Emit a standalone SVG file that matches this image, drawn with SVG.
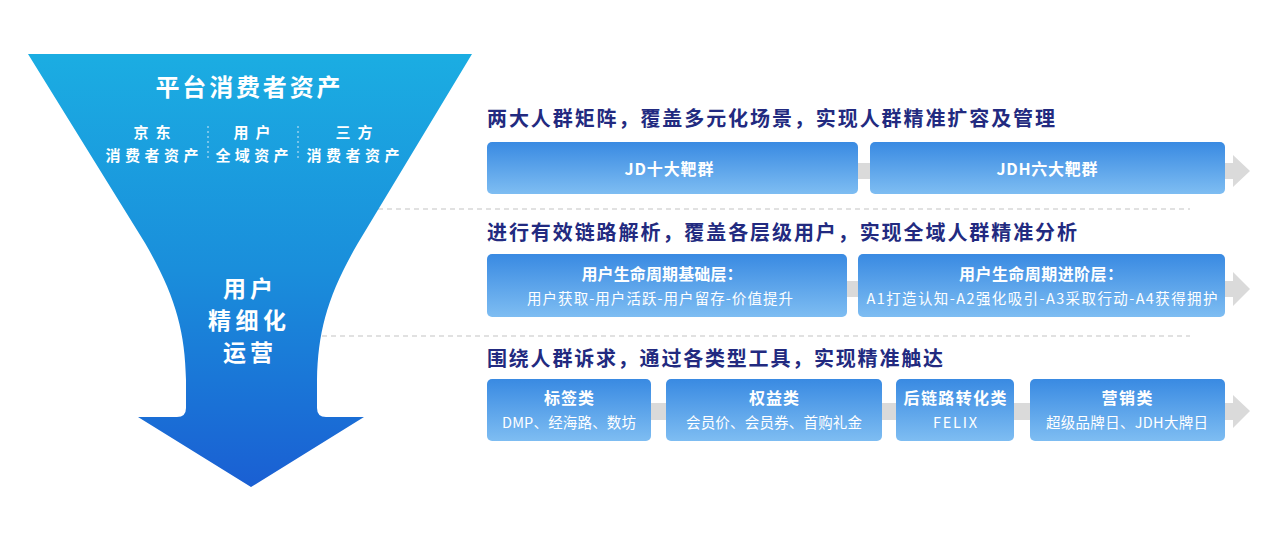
<svg xmlns="http://www.w3.org/2000/svg" width="1268" height="545" viewBox="0 0 1268 545">
<defs>
<linearGradient id="fg" x1="0" y1="0" x2="0" y2="1">
<stop offset="0" stop-color="#1badE2"/>
<stop offset="0.5" stop-color="#1a8edb"/>
<stop offset="1" stop-color="#1a5fd3"/>
</linearGradient>
<linearGradient id="bg" x1="0" y1="0" x2="0" y2="1">
<stop offset="0" stop-color="#398ae2"/>
<stop offset="1" stop-color="#7ebdf2"/>
</linearGradient>
</defs>
<style>
text{font-family:"Noto Sans CJK SC","Noto Sans",sans-serif;}
.w{fill:#fff;text-anchor:middle;font-weight:700;}
.h{fill:#222a80;font-weight:700;font-size:20px;}
.box{fill:url(#bg);}
.bt{fill:#fff;text-anchor:middle;font-weight:700;font-size:16px;}
.bs{fill:#fff;text-anchor:middle;font-size:14.5px;}
.band{fill:#dadada;}
.dash{stroke:#c4c4c4;stroke-width:1.2;stroke-dasharray:5 4;fill:none;}
.sep{stroke:#cfe8f8;stroke-width:1;stroke-dasharray:2 3;fill:none;}
</style>
<g id="connectors">
<path class="dash" d="M378 209 H1190"/>
<path class="dash" d="M322 336 H1190"/>
<path class="band" d="M487 163 H1233 V155 L1250 171 L1233 187 V179 H487 Z"/>
<path class="band" d="M487 281 H1233 V272 L1250 289 L1233 306 V297 H487 Z"/>
<path class="band" d="M487 403 H1233 V395 L1250 411 L1233 428 V420 H487 Z"/>
</g>
<g id="funnel">
<path fill="url(#fg)" d="M28 54 L472 54 L358 243 C328 295 318 330 317 380 L317 408 Q317 417 326 417 L364 417 L251 487 L138 417 L177 417 Q186 417 186 408 L186 380 C185 330 175 295 145 243 Z"/>
<text class="w" x="248" y="96" font-size="24" textLength="185" lengthAdjust="spacing">平台消费者资产</text>
<text class="w" x="152" y="138" font-size="15" textLength="37" lengthAdjust="spacing">京东</text>
<text class="w" x="152" y="160.5" font-size="15" textLength="93" lengthAdjust="spacing">消费者资产</text>
<text class="w" x="252" y="138" font-size="15" textLength="37" lengthAdjust="spacing">用户</text>
<text class="w" x="252" y="160.5" font-size="15" textLength="73" lengthAdjust="spacing">全域资产</text>
<text class="w" x="354" y="138" font-size="15" textLength="37" lengthAdjust="spacing">三方</text>
<text class="w" x="353" y="160.5" font-size="15" textLength="93" lengthAdjust="spacing">消费者资产</text>
<path class="sep" d="M208 126 V161 M298 126 V161"/>
<text class="w" x="248" y="297" font-size="23" textLength="50" lengthAdjust="spacing">用户</text>
<text class="w" x="247" y="329" font-size="23" textLength="78" lengthAdjust="spacing">精细化</text>
<text class="w" x="248" y="361" font-size="23" textLength="50" lengthAdjust="spacing">运营</text>
</g>
<g id="row1">
<text class="h" x="487" y="126" textLength="568" lengthAdjust="spacing">两大人群矩阵，覆盖多元化场景，实现人群精准扩容及管理</text>
<g id="n-jd"><rect class="box" x="487" y="142" width="371" height="52" rx="5"/><text class="bt" x="669" y="175" textLength="89" lengthAdjust="spacing">JD十大靶群</text></g>
<g id="n-jdh"><rect class="box" x="870" y="142" width="355" height="52" rx="5"/><text class="bt" x="1047" y="175" textLength="101" lengthAdjust="spacing">JDH六大靶群</text></g>
</g>
<g id="row2">
<text class="h" x="487" y="240" textLength="590" lengthAdjust="spacing">进行有效链路解析，覆盖各层级用户，实现全域人群精准分析</text>
<g id="n-base"><rect class="box" x="487" y="254" width="360" height="63" rx="5"/><text class="bt" x="662" y="280" textLength="161" lengthAdjust="spacing">用户生命周期基础层：</text><text class="bs" x="660" y="304" textLength="266" lengthAdjust="spacing">用户获取-用户活跃-用户留存-价值提升</text></g>
<g id="n-adv"><rect class="box" x="858" y="254" width="367" height="63" rx="5"/><text class="bt" x="1041" y="280" textLength="164" lengthAdjust="spacing">用户生命周期进阶层：</text><text class="bs" x="1042" y="304" textLength="351" lengthAdjust="spacing">A1打造认知-A2强化吸引-A3采取行动-A4获得拥护</text></g>
</g>
<g id="row3">
<text class="h" x="487" y="366" textLength="456" lengthAdjust="spacing">围绕人群诉求，通过各类型工具，实现精准触达</text>
<g id="n-tag"><rect class="box" x="487" y="379" width="164" height="62" rx="5"/><text class="bt" x="569" y="404" textLength="50" lengthAdjust="spacing">标签类</text><text class="bs" x="569" y="428" textLength="134" lengthAdjust="spacing">DMP、经海路、数坊</text></g>
<g id="n-right"><rect class="box" x="666" y="379" width="216" height="62" rx="5"/><text class="bt" x="774" y="404" textLength="50" lengthAdjust="spacing">权益类</text><text class="bs" x="774" y="428" textLength="176" lengthAdjust="spacing">会员价、会员券、首购礼金</text></g>
<g id="n-felix"><rect class="box" x="896" y="379" width="118" height="62" rx="5"/><text class="bt" x="955" y="404" textLength="103" lengthAdjust="spacing">后链路转化类</text><text class="bs" x="955" y="428" textLength="44" lengthAdjust="spacing">FELIX</text></g>
<g id="n-mkt"><rect class="box" x="1030" y="379" width="195" height="62" rx="5"/><text class="bt" x="1127" y="404" textLength="51" lengthAdjust="spacing">营销类</text><text class="bs" x="1127" y="428" textLength="162" lengthAdjust="spacing">超级品牌日、JDH大牌日</text></g>
</g>
</svg>
